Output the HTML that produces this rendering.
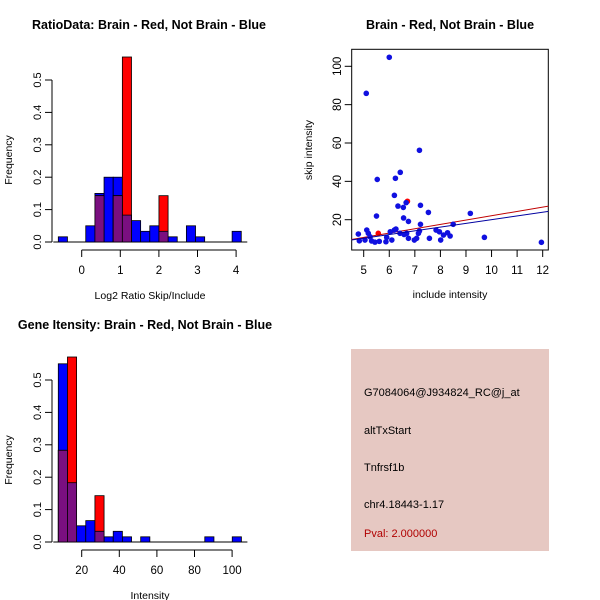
<!DOCTYPE html>
<html><head><meta charset="utf-8"><style>
body{margin:0;background:#fff}
svg{display:block;font-family:"Liberation Sans",sans-serif}
</style></head><body>
<svg id="c" width="600" height="600" viewBox="0 0 600 600">
<text x="149" y="29" text-anchor="middle" font-weight="bold" font-size="12.5">RatioData: Brain - Red, Not Brain - Blue</text>
<text x="450" y="29" text-anchor="middle" font-weight="bold" font-size="12.5">Brain - Red, Not Brain - Blue</text>
<text x="145" y="329" text-anchor="middle" font-weight="bold" font-size="12.5">Gene Itensity: Brain - Red, Not Brain - Blue</text>
<g id="h1"></g>
<g id="sc"></g>
<g id="h2"></g>
<g>
<rect x="351" y="349" width="198" height="202" fill="#e6c8c2"/>
<text x="364" y="396" font-size="11">G7084064@J934824_RC@j_at</text>
<text x="364" y="434" font-size="11">altTxStart</text>
<text x="364" y="471" font-size="11">Tnfrsf1b</text>
<text x="364" y="508" font-size="11">chr4.18443-1.17</text>
<text x="364" y="537" font-size="11" fill="#b00000">Pval: 2.000000</text>
</g>
</svg>
<script>
// Ratio histogram data
const h1Start = -0.606, h1Width = 0.237;
const h1Blue = [0.016,0,0,0.05,0.15,0.2,0.2,0.083,0.066,0.033,0.05,0.033,0.016,0,0.05,0.016,0,0,0,0.033];
const h1Red  = [0,0,0,0,0.143,0,0.143,0.571,0,0,0,0.143,0,0,0,0,0,0,0,0];
const h1XTicks = [0,1,2,3,4];
const yTicks = [0,0.1,0.2,0.3,0.4,0.5];
const yTickLabels = ["0.0","0.1","0.2","0.3","0.4","0.5"];
// Intensity histogram data
const h2Start = 7.55, h2Width = 4.87;
const h2Blue = [0.55,0.183,0.05,0.066,0.033,0.016,0.033,0.016,0,0.016,0,0,0,0,0,0,0.016,0,0,0.016];
const h2Red  = [0.283,0.571,0,0,0.143,0,0,0,0,0,0,0,0,0,0,0,0,0,0,0];
const h2XTicks = [20,40,60,80,100];
// Scatter data
const blueX = [6.0,5.1,7.18,6.43,6.24,5.53,6.2,6.34,6.66,6.55,7.22,5.5,6.56,6.75,7.53,9.17,7.22,8.5,4.79,5.12,5.18,5.25,4.83,5.05,5.31,5.44,5.61,5.87,6.1,6.04,6.2,6.26,6.42,6.58,6.68,6.75,6.98,7.07,7.14,7.18,7.57,7.83,7.96,8.01,8.12,8.28,8.38,9.72,11.95,5.9];
const blueY = [104.7,85.9,56.2,44.7,41.6,41.0,32.7,27.1,28.9,26.4,27.5,21.9,20.9,19.1,23.8,23.3,17.6,17.6,12.5,14.6,12.9,11.1,9.0,9.4,8.9,8.3,8.7,8.5,9.4,13.7,14.6,15.1,12.9,12.3,12.9,10.3,9.4,10.3,12.9,14.1,10.3,14.6,13.7,9.4,12.0,13.2,11.5,10.8,8.2,10.8];
const redX = [5.57,6.71];
const redY = [12.9,29.6];
const redFit = [-0.54,2.26];   // intercept, slope
const blueFit = [0.61,1.94];
const scXTicks = [5,6,7,8,9,10,11,12];
const scYTicks = [20,40,60,80,100];

const NS="http://www.w3.org/2000/svg";
function mk(p,tag,a){const e=document.createElementNS(NS,tag);for(const k in a)e.setAttribute(k,a[k]);p.appendChild(e);return e;}

function hist(g,y0,x0px,x0val,pxPerUnit,start,width,blue,red,xticks,xlab,nm){
  const ys=v=>y0-v*324;
  const xs=v=>x0px+(v-x0val)*pxPerUnit;
  let e=mk(g,'line',{x1:52,x2:52,y1:ys(0),y2:ys(0.5),stroke:'#000'});
  
  
  yTicks.forEach((t,i)=>{
    mk(g,'line',{x1:45,x2:52,y1:ys(t),y2:ys(t),stroke:'#000'});
    const tx=mk(g,'text',{x:41,y:ys(t),'font-size':11,'text-anchor':'middle',transform:`rotate(-90 41 ${ys(t)})`});
    tx.textContent=yTickLabels[i];
    
    
  });
  const yl=mk(g,'text',{x:12,y:y0-82,'font-size':10.5,'text-anchor':'middle',transform:`rotate(-90 12 ${y0-82})`});
  yl.textContent='Frequency';
  
  
  e=mk(g,'line',{x1:xs(xticks[0]),x2:xs(xticks[xticks.length-1]),y1:y0+8,y2:y0+8,stroke:'#000'});
  
  
  xticks.forEach(t=>{
    mk(g,'line',{x1:xs(t),x2:xs(t),y1:y0+8,y2:y0+15,stroke:'#000'});
    const tx=mk(g,'text',{x:xs(t),y:y0+32,'font-size':11.5,'text-anchor':'middle'});
    tx.textContent=t;
    
    
  });
  const xl=mk(g,'text',{x:150,y:y0+57,'font-size':10.5,'text-anchor':'middle'});
  xl.textContent=xlab;
  
  
  mk(g,'line',{x1:xs(start)-5,x2:xs(start+width*blue.length)+6,y1:y0,y2:y0,stroke:'#000'});
  const bar=(i,v,fill,n)=>{
    if(v<=0)return;
    const l=xs(start+i*width), r=xs(start+(i+1)*width);
    const b=mk(g,'rect',{x:l,y:ys(v),width:r-l,height:y0-ys(v),fill:fill,stroke:'#000','stroke-width':0.8});
    
    
  };
  blue.forEach((v,i)=>bar(i,v,'#0000ff','blue'));
  red.forEach((v,i)=>bar(i,v,'#ff0000','red'));
  blue.forEach((v,i)=>bar(i,Math.min(v,red[i]),'#7a0f80','overlap'));
}
hist(document.getElementById('h1'),242,81.7,0,38.6,h1Start,h1Width,h1Blue,h1Red,h1XTicks,'Log2 Ratio Skip/Include','ratio');
hist(document.getElementById('h2'),542,81.7,20,1.88,h2Start,h2Width,h2Blue,h2Red,h2XTicks,'Intensity','intensity');

(function(){
  const g=document.getElementById('sc');
  const xs=v=>363.7+(v-5)*25.57;
  const ys=v=>219.7-(v-20)*1.9175;
  const L=351.7,R=548.3,T=49.3,B=250;
  const cp=mk(g,'clipPath',{id:'clp'});mk(cp,'rect',{x:L,y:T,width:R-L,height:B-T});
  let e=mk(g,'rect',{x:L,y:T,width:R-L,height:B-T,fill:'none',stroke:'#000'});
  
  
  scXTicks.forEach(t=>{
    mk(g,'line',{x1:xs(t),x2:xs(t),y1:B,y2:B+7,stroke:'#000'});
    const tx=mk(g,'text',{x:xs(t),y:B+24,'font-size':11.5,'text-anchor':'middle'});
    tx.textContent=t;
    
    
  });
  scYTicks.forEach(t=>{
    mk(g,'line',{x1:L-7,x2:L,y1:ys(t),y2:ys(t),stroke:'#000'});
    const tx=mk(g,'text',{x:341,y:ys(t),'font-size':11.5,'text-anchor':'middle',transform:`rotate(-90 341 ${ys(t)})`});
    tx.textContent=t;
    
    
  });
  let t=mk(g,'text',{x:450,y:298,'font-size':10.5,'text-anchor':'middle'});t.textContent='include intensity';
  
  
  t=mk(g,'text',{x:312,y:150,'font-size':10.5,'text-anchor':'middle',transform:'rotate(-90 312 150)'});t.textContent='skip intensity';
  
  
  const cg=mk(g,'g',{'clip-path':'url(#clp)'});
  redX.forEach((x,i)=>{const c=mk(cg,'circle',{cx:xs(x),cy:ys(redY[i]),r:2.8,fill:'#ff0000'});
    
    });
  const line=(f,col,n)=>{const x1=4.4,x2=12.4;const l=mk(cg,'line',{x1:xs(x1),x2:xs(x2),y1:ys(f[0]+f[1]*x1),y2:ys(f[0]+f[1]*x2),stroke:col,'stroke-width':1});
    
    };
  line(redFit,'#c00000','red-fit-line');
  blueX.forEach((x,i)=>{const c=mk(cg,'circle',{cx:xs(x),cy:ys(blueY[i]),r:2.8,fill:'#1010e0'});
    
    });
  line(blueFit,'#0000a0','blue-fit-line');
})();
</script>
</body></html>
